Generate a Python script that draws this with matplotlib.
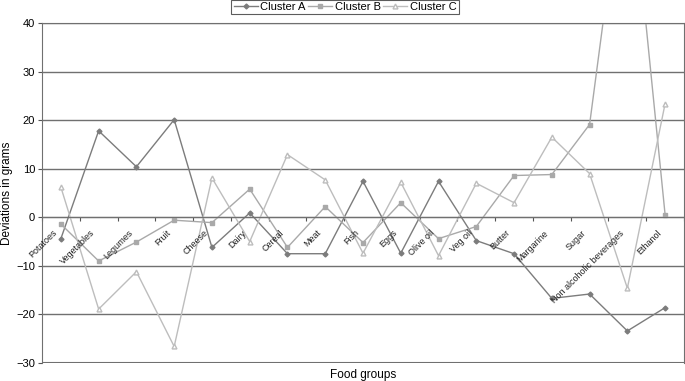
import numpy as np
import matplotlib
matplotlib.use('Agg')
import matplotlib.pyplot as plt

plt.rcParams['font.family'] = ['Liberation Sans', 'DejaVu Sans']

foods = ['Potatoes', 'Vegetables', 'Legumes', 'Fruit', 'Cheese', 'Dairy', 'Cereal',
         'Meat', 'Fish', 'Eggs', 'Olive oil', 'Veg oil', 'Butter', 'Margarine',
         'Sugar', 'Non alcoholic beverages', 'Ethanol']

cluster_a = [-4.4, 17.8, 10.4, 20.1, -6.2, 0.9, -7.5, -7.5, 7.4, -7.4, 7.4,
             -4.8, -7.5, -16.7, -15.8, -23.4, -18.6]
cluster_b = [-1.4, -9.0, -5.1, -0.6, -1.1, 5.8, -6.2, 2.2, -5.2, 3.0, -4.4,
             -1.9, 8.6, 8.8, 19.1, 78.0, 0.5]
cluster_c = [6.2, -18.9, -11.2, -26.6, 8.1, -5.0, 12.9, 7.7, -7.4, 7.2, -7.9,
             7.0, 3.0, 16.5, 9.0, -14.6, 23.4]

x = np.arange(len(foods))

fig = plt.figure(figsize=(6.85, 3.81), dpi=100)
ax = fig.add_axes([42/685, 1 - 363/381, 642/685, 340/381])

ax.plot(x, cluster_a, '-', color='#7c7c7c', lw=1.0, marker='D', ms=2.5, label='Cluster A')
ax.plot(x, cluster_b, '-', color='#a9a9a9', lw=1.0, marker='s', ms=3, label='Cluster B')
ax.plot(x, cluster_c, '-', color='#bdbdbd', lw=1.0, marker='^', ms=3.5,
        mfc='white', mec='#bdbdbd', label='Cluster C')

ax.set_xlim(-0.5, len(foods) - 0.5)
ax.set_ylim(-30, 40)
ax.set_yticks(np.arange(-30, 41, 10))
ax.yaxis.grid(True, color='#707070', lw=1.0)
ax.set_axisbelow(True)
ax.tick_params(axis='y', labelsize=8, length=3, color='#555555', pad=2)

# category axis crossing at zero
ax.spines['bottom'].set_position(('data', 0))
ax.spines['bottom'].set_color('#707070')
for s in ['left', 'right', 'top']:
    ax.spines[s].set_color('#707070')
ax.axhline(-30, color='#707070', lw=1.5, zorder=0)
ax.set_xticks(np.arange(len(foods) + 1) - 0.5)
ax.set_xticklabels([])
ax.tick_params(axis='x', direction='out', length=3, color='#555555')
for i, name in enumerate(foods):
    ax.annotate(name, (x[i], 0), xytext=(-6, -8), textcoords='offset points',
                rotation=45, ha='right', va='top', rotation_mode='anchor',
                fontsize=6.5, color='#222222')

fig.text(7/685, 1 - 193/381, 'Deviations in grams', rotation=90,
         ha='center', va='center', fontsize=8.5)
fig.text(363/685, 6/381, 'Food groups', ha='center', va='center', fontsize=8.5)

leg = ax.legend(loc='upper center', bbox_to_anchor=(345/685, 1.0), bbox_transform=fig.transFigure,
                ncol=3, fontsize=8, frameon=True, fancybox=False, edgecolor='#333333',
                handlelength=2.2, handletextpad=0.2, columnspacing=0.2, borderpad=0.2,
                borderaxespad=0)
leg.get_frame().set_linewidth(0.8)

fig.savefig('out.png', dpi=100)
